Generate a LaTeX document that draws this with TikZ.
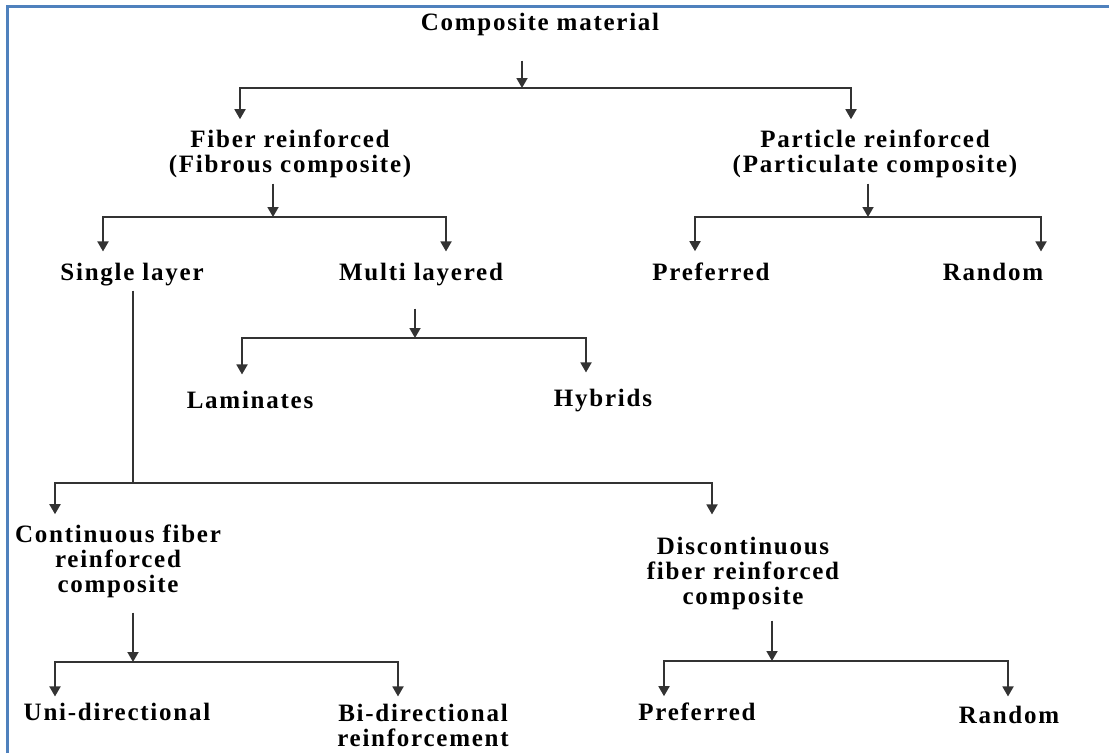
\documentclass[tikz,border=0pt]{standalone}
\usepackage{fontspec}
\setmainfont{Liberation Serif}[LetterSpace=7]
\usetikzlibrary{arrows.meta}
\definecolor{frameblue}{RGB}{79,129,189}
\tikzset{lbl/.style={font=\fontsize{25}{25}\selectfont\bfseries, anchor=base, align=center, inner sep=2pt},
	line/.style={draw=black!80, line width=1.8pt},
	arr/.style={line, -{Triangle[width=11pt,length=10pt]}},
	frame/.style={draw=frameblue, line width=3pt}}

\begin{document}
\begin{tikzpicture}[x=1pt,y=-1pt]
	\useasboundingbox (0,0) rectangle (1109,753);
	\draw[frame] (7,753) -- (7,6) -- (1109,6);
	% text (multi-line nodes sit on their last line)
	\node[lbl] (comp) at (540,30) {Composite material};
	\node[lbl] (fib) at (290,172) {Fiber reinforced\\(Fibrous composite)};
	\node[lbl] (par) at (875,172) {Particle reinforced\\(Particulate composite)};
	\node[lbl] (single) at (132,280) {Single layer};
	\node[lbl] (multi) at (421,280) {Multi layered};
	\node[lbl] (pref) at (711,280) {Preferred};
	\node[lbl] (rand) at (993,280) {Random};
	\node[lbl] (lam) at (250,408) {Laminates};
	\node[lbl] (hyb) at (603,406) {Hybrids};
	\node[lbl] (cont) at (118,592) {Continuous fiber\\reinforced\\composite};
	\node[lbl] (disc) at (743,604) {Discontinuous\\fiber reinforced\\composite};
	\node[lbl] (uni) at (117,720) {Uni-directional};
	\node[lbl] (bi) at (423,746) {Bi-directional\\reinforcement};
	\node[lbl] (pref2) at (697,720) {Preferred};
	\node[lbl] (rand2) at (1009,723) {Random};
	% junctions on the bars
	\coordinate (j0) at (522,88); \coordinate (j0a) at (240,88); \coordinate (j0b) at (851,88);
	\coordinate (j1) at (273,217); \coordinate (j1a) at (103,217); \coordinate (j1b) at (446,217);
	\coordinate (j2) at (868,217); \coordinate (j2a) at (695,217); \coordinate (j2b) at (1041,217);
	\coordinate (j3) at (415,338); \coordinate (j3a) at (242,338); \coordinate (j3b) at (586,338);
	\coordinate (j4) at (133,483); \coordinate (j4a) at (55,483); \coordinate (j4b) at (712,483);
	\coordinate (j5) at (133,662); \coordinate (j5a) at (55,662); \coordinate (j5b) at (398,662);
	\coordinate (j6) at (772,661); \coordinate (j6a) at (664,661); \coordinate (j6b) at (1008,661);
	% connectors
	\draw[arr, shorten <=23pt] (comp.south -| j0) -- (j0);
	\draw[arr, shorten >=8pt] (j0) -- (j0a) -- (j0a |- fib.north);
	\draw[arr, shorten >=8pt] (j0) -- (j0b) -- (j0b |- par.north);
	\draw[arr, shorten <=4pt] (fib.south -| j1) -- (j1);
	\draw[arr, shorten >=9pt] (j1) -- (j1a) -- (j1a |- single.north);
	\draw[arr, shorten >=9pt] (j1) -- (j1b) -- (j1b |- multi.north);
	\draw[arr, shorten <=4pt] (par.south -| j2) -- (j2);
	\draw[arr, shorten >=9pt] (j2) -- (j2a) -- (j2a |- pref.north);
	\draw[arr, shorten >=9pt] (j2) -- (j2b) -- (j2b |- rand.north);
	\draw[arr, shorten <=21pt] (multi.south -| j3) -- (j3);
	\draw[arr, shorten >=14pt] (j3) -- (j3a) -- (j3a |- lam.north);
	\draw[arr, shorten >=14pt] (j3) -- (j3b) -- (j3b |- hyb.north);
	\draw[line, shorten <=3pt] (single.south -| j4) -- (j4);
	\draw[arr, shorten >=8pt] (j4) -- (j4a) -- (j4a |- cont.north);
	\draw[arr, shorten >=20pt] (j4) -- (j4b) -- (j4b |- disc.north);
	\draw[arr, shorten <=13pt] (cont.south -| j5) -- (j5);
	\draw[arr, shorten >=4pt] (j5) -- (j5a) -- (j5a |- uni.north);
	\draw[arr, shorten >=5pt] (j5) -- (j5b) -- (j5b |- bi.north);
	\draw[arr, shorten <=9pt] (disc.south -| j6) -- (j6);
	\draw[arr, shorten >=4pt] (j6) -- (j6a) -- (j6a |- pref2.north);
	\draw[arr, shorten >=7pt] (j6) -- (j6b) -- (j6b |- rand2.north);
\end{tikzpicture}
\end{document}
